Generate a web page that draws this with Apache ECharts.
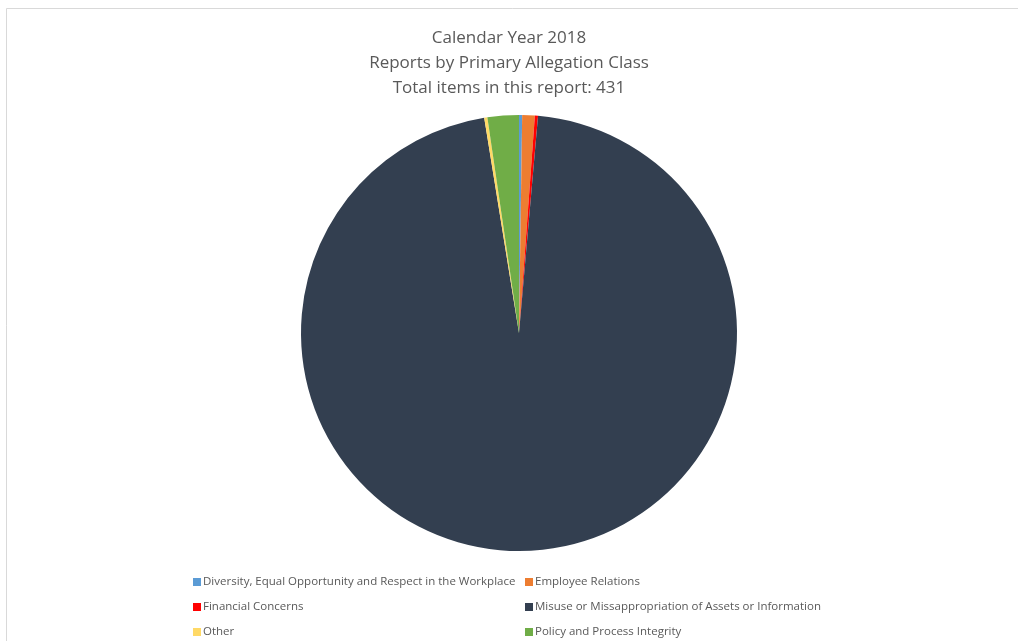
<!DOCTYPE html>
<html>
<head>
<meta charset="utf-8">
<script src="https://cdn.jsdelivr.net/npm/echarts@6/dist/echarts.min.js"></script>
<style>
html,body{margin:0;padding:0;background:#fff;}
#chart{width:1018px;height:641px;}
</style>
</head>
<body>
<div id="chart"></div>
<script>
const categories = [
  "Diversity, Equal Opportunity and Respect in the Workplace",
  "Employee Relations",
  "Financial Concerns",
  "Misuse or Missappropriation of Assets or Information",
  "Other",
  "Policy and Process Integrity"
];
const counts = [1, 4, 1, 414, 1, 10];
const colors = ["#5b9bd5", "#ed7d31", "#ff0000", "#333f50", "#ffd966", "#70ad47"];
const titleLines = ["Calendar Year 2018", "Reports by Primary Allegation Class", "Total items in this report: 431"];

const font = "'Open Sans', sans-serif";
// legend grid: column index and row index per category
const legendCol = [0, 1, 0, 1, 0, 1];
const legendRow = [0, 0, 1, 1, 2, 2];
const colLeft = [188, 520];
const rowTop = [571, 596, 621];

const legends = categories.map((c, i) => ({
  left: colLeft[legendCol[i]],
  top: rowTop[legendRow[i]],
  orient: 'horizontal',
  itemWidth: 8,
  itemHeight: 8,
  icon: 'rect',
  textStyle: {color: '#595959', fontSize: 11.5, fontFamily: font, padding: [0,0,0,-3]},
  selectedMode: false,
  data: [c]
}));

const chart = echarts.init(document.getElementById('chart'));
chart.setOption({
  backgroundColor: '#ffffff',
  animation: false,
  color: colors,
  title: {
    text: titleLines.join('\n'),
    left: 'center',
    top: 21,
    textStyle: {color: '#595959', fontSize: 17, fontWeight: 'normal', fontFamily: font, lineHeight: 25}
  },
  graphic: [{
    type: 'rect',
    shape: {x: 6.5, y: 8.5, width: 1030, height: 700},
    style: {fill: 'none', stroke: '#d9d9d9', lineWidth: 1},
    silent: true
  }],
  legend: legends,
  series: [{
    type: 'pie',
    center: [519, 333],
    radius: 218,
    startAngle: 90,
    clockwise: true,
    label: {show: false},
    labelLine: {show: false},
    itemStyle: {borderWidth: 0},
    data: categories.map((c, i) => ({name: c, value: counts[i]}))
  }]
});
</script>
</body>
</html>
